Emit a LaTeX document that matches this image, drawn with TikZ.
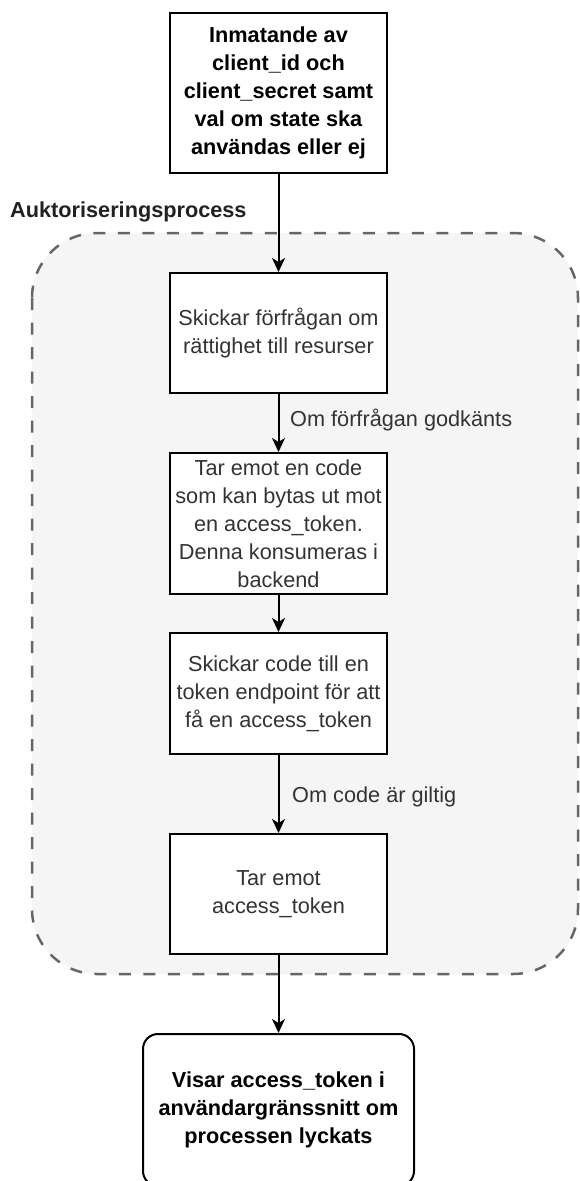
\documentclass[tikz,border=0pt]{standalone}
\usepackage{fontspec}
\setmainfont{Liberation Sans}
\usetikzlibrary{arrows.meta}
\definecolor{groupfill}{HTML}{F5F5F5}
\definecolor{groupline}{HTML}{666666}
\definecolor{softtext}{HTML}{333333}
\tikzset{
  txt/.style={font=\fontsize{21.7}{27.9}\selectfont},
  stepbox/.style={draw=black, line width=2pt, fill=white, rectangle,
    minimum width=217pt, inner sep=0pt, align=center, txt, text=softtext},
  topbox/.style={stepbox, text=black, font=\fontsize{21.7}{27.9}\selectfont\bfseries},
  endbox/.style={stepbox, rounded corners=15pt, minimum width=271pt,
    text=black, font=\fontsize{21.7}{27.9}\selectfont\bfseries},
  flow/.style={line width=2pt, -{Stealth[length=14pt, width=13pt, inset=4pt]}},
  edgelabel/.style={txt, text=softtext, inner sep=0pt, anchor=base west},
  group/.style={draw=groupline, fill=groupfill, line width=2.5pt,
    dash pattern=on 12pt off 12.5pt, rounded corners=65pt}
}
\begin{document}
\begin{tikzpicture}[x=1pt, y=-1pt]
  \useasboundingbox (0,0) rectangle (580,1181);

  % dashed group for the authorisation steps
  \draw[group] (32,233) rectangle (578,974);
  \node[txt, font=\fontsize{21.7}{27.9}\selectfont\bfseries, text=black!87,
        inner sep=0pt, anchor=base west] (grouptitle) at (10,217) {Auktoriseringsprocess};

  % process steps
  \node[topbox, minimum height=160pt] (input) at (278.5,93)
    {Inmatande av\\client\_id och\\client\_secret samt\\val om state ska\\användas eller ej};
  \node[stepbox, minimum height=120pt] (request) at (278.5,333)
    {Skickar förfrågan om\\rättighet till resurser};
  \node[stepbox, minimum height=141pt] (code) at (278.5,523.5)
    {Tar emot en code\\som kan bytas ut mot\\en access\_token.\\Denna konsumeras i\\backend};
  \node[stepbox, minimum height=121pt] (exchange) at (278.5,693.5)
    {Skickar code till en\\token endpoint för att\\få en access\_token};
  \node[stepbox, minimum height=120pt] (receive) at (278.5,894)
    {Tar emot\\access\_token};
  \node[endbox, minimum height=152pt] (show) at (278.5,1110)
    {Visar access\_token i\\användargränssnitt om\\processen lyckats};

  % connectors
  \draw[flow] (input) -- (request);
  \draw[flow] (request) -- (code);
  \draw[flow] (code) -- (exchange);
  \draw[flow] (exchange) -- (receive);
  \draw[flow] (receive) -- (show);

  % connector labels
  \node[edgelabel] (approved) at (290,426) {Om förfrågan godkänts};
  \node[edgelabel] (valid) at (292,802) {Om code är giltig};
\end{tikzpicture}
\end{document}
